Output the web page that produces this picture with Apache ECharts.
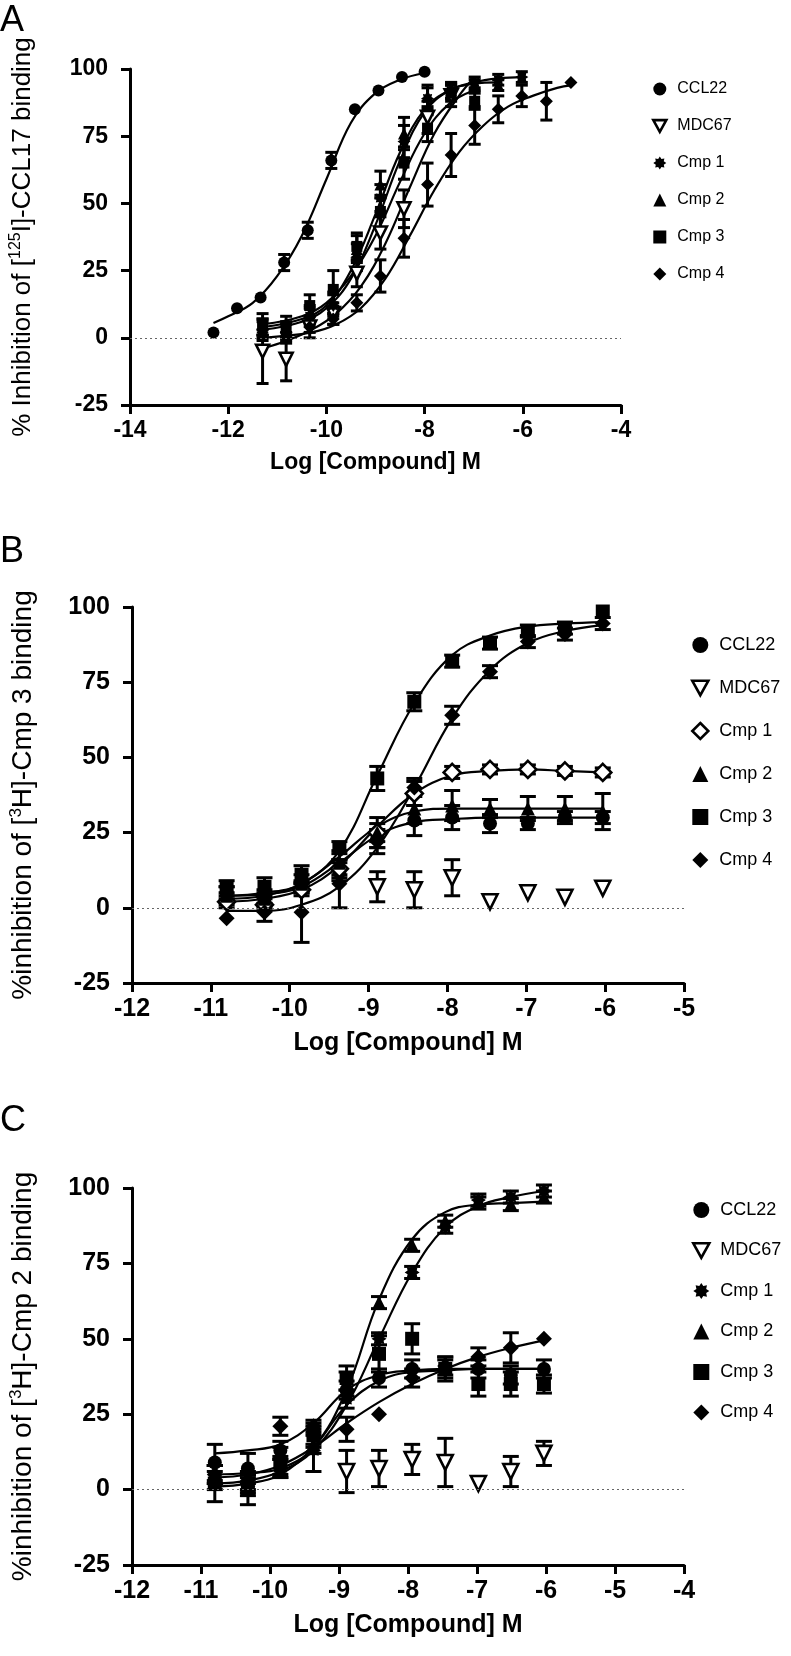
<!DOCTYPE html>
<html><head><meta charset="utf-8">
<script src="https://cdn.jsdelivr.net/npm/echarts@6/dist/echarts.min.js"></script>
<style>html,body{margin:0;padding:0;background:#fff}#c{width:791px;height:1656px}</style>
</head><body><div id="c"></div>
<script>
// ---------------- DATA ----------------
const legendNames = ['CCL22','MDC67','Cmp 1','Cmp 2','Cmp 3','Cmp 4'];
const yTicks = [-25, 0, 25, 50, 75, 100];

// Panel A  ([125I]-CCL17 binding)
const aCCL22X = [-12.3,-11.82,-11.34,-10.86,-10.38,-9.9,-9.42,-8.94,-8.46,-8.0];
const aCCL22Y = [2,11,15,28,40,66,85,92,97,99];
const aCCL22E = [0,0,0,3,3,3,0,0,0,0];
const aCmpX   = [-11.3,-10.82,-10.34,-9.86,-9.38,-8.9,-8.42,-7.94,-7.46,-6.98,-6.5,-6.02,-5.52,-5.02];
const aMDC67Y = [-5,-8,4,9,24,39,48,82,90,101];
const aMDC67E = [12,8,4,4,5,6,7,6,4,0];
const aCmp1Y  = [3,2,8,12,30,52,73,89,92,95,96,97];
const aCmp1E  = [3,3,3,4,5,5,6,4,3,2,2,2];
const aCmp2Y  = [4,3,9,13,33,57,76,90,92,94,94];
const aCmp2E  = [3,3,3,4,5,5,6,4,3,2,2];
const aCmp3Y  = [5,4,12,18,34,47,65,78,91,88];
const aCmp3E  = [4,4,4,7,5,6,6,5,3,3];
const aCmp4Y  = [1,0,4,7,13,23,37,57,68,79,85,90,88,95];
const aCmp4E  = [2,2,2,2,3,6,7,8,8,7,5,4,7,0];
// fitted curves
const aFitCCL22X = [-12.3,-12,-11.5,-11,-10.5,-10,-9.5,-9,-8.5,-8];
const aFitCCL22Y = [5.5,8,13,23,38,59,80,91,96,98.5];
const aFitMDC67X = [-11.3,-10.8,-10.3,-9.8,-9.3,-8.8,-8.3,-7.8,-7.3,-6.98];
const aFitMDC67Y = [-4,-1,3,9,19,35,56,76,90,97];
const aFitCmp1X = [-11.3,-10.5,-10,-9.5,-9,-8.5,-8,-7.5,-7,-6.5,-6];
const aFitCmp1Y = [3,6,11,22,42,66,84,92,95,96.5,97];
const aFitCmp2X = [-11.3,-10.5,-10,-9.5,-9,-8.5,-8,-7.5,-7,-6.5];
const aFitCmp2Y = [4,7,12,25,46,69,85,92,94.5,95];
const aFitCmp3X = [-11.3,-10.5,-10,-9.5,-9,-8.5,-8,-7.5,-7];
const aFitCmp3Y = [5,8,13,23,38,58,76,87,92];
const aFitCmp4X = [-11.3,-10.3,-9.8,-9.3,-8.8,-8.3,-7.8,-7.3,-6.8,-6.3,-5.8,-5.3,-5];
const aFitCmp4Y = [0,2,5,11,22,38,55,69,79,86,90,93,94];

// Panel B  ([3H]-Cmp 3 binding)
const bX      = [-10.8,-10.32,-9.85,-9.37,-8.89,-8.42,-7.94,-7.46,-6.98,-6.51,-6.03];
const bCCL22Y = [5,3,7,12,23,29,30,28,28,30,30];
const bCCL22E = [2,2,2,3,3,5,4,3,2,2,2];
const bMDC67X = [-8.89,-8.42,-7.94,-7.46,-6.98,-6.51,-6.03];
const bMDC67Y = [7,6,10,2,5,3.5,6.5];
const bMDC67E = [5,6,6,0,0,0,0];
const bCmp1Y  = [2,1,6,13,25,38,45,46,46,45.5,45];
const bCmp1E  = [2,2,2,3,3,4,2,1.5,1.5,1.5,1.5];
const bCmp2Y  = [4,3,8,15,25,33,34,33,33,33,32];
const bCmp2E  = [3,3,3,4,5,5,5,3,4,4,6];
const bCmp3Y  = [7,7,11,20,43,68.5,82,88,92,93,98.5];
const bCmp3E  = [2,3,3,2,4,3,2,2,2,2,0];
const bCmp4Y  = [-3.5,-1.5,-1.5,8,22,40,64,78.5,88.5,91,94.5];
const bCmp4E  = [0,3,10,8,4,3,3,2,2,2,2];
const bFitCCL22Y = [4,4.5,7,15,24,28.5,29.5,30,30,30,30];
const bFitCmp1Y  = [2,3,6,14,27,38,44,45.5,46,45.5,45];
const bFitCmp2Y  = [3,4,8,17,27,32,33,33,33,33,33];
const bFitCmp3Y  = [4,5,8,19,44,68,84,90.5,93.5,94.5,95];
const bFitCmp4Y  = [-1,-1,1,7,20,40,63,79,88,92,94];

// Panel C  ([3H]-Cmp 2 binding)
const cX      = [-10.8,-10.32,-9.85,-9.37,-8.89,-8.42,-7.94,-7.46,-6.98,-6.51,-6.03];
const cCCL22Y = [9,7,13,18,33,37,40,40,40,38,40];
const cCCL22E = [6,5,3,3,3,3,3,3,3,3,3];
const cMDC67X = [-8.89,-8.42,-7.94,-7.46,-6.98,-6.51,-6.03];
const cMDC67Y = [6,7,10,9,2,6,12];
const cMDC67E = [7,6,5,8,0,5,4];
const cCmp1Y  = [3,1,7,13,30,50,72,87,96,97,99];
const cCmp1E  = [3,3,3,7,3,2,2,2,2,2,2];
const cCmp2Y  = [5,2,8,15,35,62,81,89,95,94.5,97];
const cCmp2E  = [3,3,3,3,4,2,2,2,2,2,2];
const cCmp3Y  = [2,0,9,18,37,45,50,40,35,35,35];
const cCmp3E  = [6,5,5,4,4,6,5,4,4,4,3];
const cCmp4Y  = [5,3,21,21,20,25,37,41,44,47,50];
const cCmp4E  = [3,3,3,2,4,0,3,3,3,5,0];
const cFitCCL22Y = [12,13,15,22,33,38,39.5,40,40,40,40];
const cFitCmp1Y  = [2,3,6,13,28,50,72,87,94,97,99];
const cFitCmp2Y  = [5,5.5,7,14,33,63,83,92,94.5,95,95.5];
const cFitCmp3Y  = [1,2,5,14,28,36,39,39.5,40,40,40];
const cFitCmp4Y  = [4,5,8,14,22,29,35,40,44,47,49.5];

// ---------------- STYLE ----------------
const FONT = 'Liberation Sans, Arial, Helvetica, sans-serif';
function starPath(n, r1, r2) {
  let d = '';
  for (let i = 0; i < 2 * n; i++) {
    const r = i % 2 ? r2 : r1, a = Math.PI * i / n - Math.PI / 2;
    d += (i ? 'L' : 'M') + (50 + r * Math.cos(a)).toFixed(2) + ',' + (50 + r * Math.sin(a)).toFixed(2);
  }
  return 'path://' + d + 'Z';
}
const SYM = {
  circle: 'circle',
  down: 'path://M0,0L20,0L10,18Z',
  star: starPath(8, 50, 33),
  tri: 'triangle',
  rect: 'rect',
  diamond: 'diamond'
};
const filled = { color: '#000' };
const open = { color: '#fff', borderColor: '#000', borderWidth: 2.6 };

const grids = [
  { left: 116, top: 69, width: 505, height: 336 },
  { left: 117, top: 607, width: 567, height: 376 },
  { left: 117, top: 1188, width: 567, height: 377 }
];
const xCfg = [
  { min: -14, max: -4, interval: 2, fs: 23 },
  { min: -12, max: -5, interval: 1, fs: 25 },
  { min: -12, max: -4, interval: 1, fs: 25 }
];
const yTitles = [
  '{n|% Inhibition of [}{s|125}{n|I]-CCL17 binding}',
  '{n|%inhibition of [}{s|3}{n|H]-Cmp 3 binding}',
  '{n|%inhibition of [}{s|3}{n|H]-Cmp 2 binding}'
];
const titleFs = [26, 28, 28];

const xAxis = xCfg.map((c, i) => ({
  type: 'value', gridIndex: i, min: c.min, max: c.max, interval: c.interval,
  axisLine: { show: true, onZero: false, lineStyle: { color: '#000', width: 3 } },
  axisTick: { show: true, length: 9, lineStyle: { color: '#000', width: 3 } },
  splitLine: { show: false },
  axisLabel: { color: '#000', fontWeight: 'bold', fontSize: c.fs, fontFamily: FONT, margin: 14 },
  name: 'Log [Compound] M', nameLocation: 'middle', nameGap: i === 0 ? 46 : 48,
  nameTextStyle: { color: '#000', fontWeight: 'bold', fontSize: c.fs, fontFamily: FONT }
}));
const yAxis = grids.map((g, i) => ({
  type: 'value', gridIndex: i, min: yTicks[0], max: yTicks[yTicks.length - 1], interval: 25,
  axisLine: { show: true, onZero: false, lineStyle: { color: '#000', width: 3 } },
  axisTick: { show: true, length: 9, lineStyle: { color: '#000', width: 3 } },
  splitLine: { show: false },
  axisLabel: { color: '#000', fontWeight: 'bold', fontSize: xCfg[i].fs, fontFamily: FONT, margin: 22 },
  name: yTitles[i], nameLocation: 'middle', nameRotate: 90, nameGap: i === 0 ? 92 : 94,
  nameTextStyle: {
    color: '#000', fontFamily: FONT,
    rich: {
      n: { fontSize: titleFs[i], fontFamily: FONT, color: '#000', lineHeight: 30 },
      s: { fontSize: Math.round(titleFs[i] * 0.6), fontFamily: FONT, color: '#000', lineHeight: 14, verticalAlign: 'top' }
    }
  }
}));

// ---------------- SERIES BUILDERS ----------------
const series = [];
function pts(xs, ys) { return ys.map((y, i) => [xs[i], y]); }
function addFit(g, name, xs, ys) {
  series.push({
    type: 'line', name: name + ' fit', xAxisIndex: g, yAxisIndex: g, data: pts(xs, ys),
    smooth: 0.4, showSymbol: false, symbol: 'none', silent: true, z: 2,
    lineStyle: { color: '#000', width: 2.2 }
  });
}
function addErr(g, name, xs, ys, es, cap) {
  const d = [];
  ys.forEach((y, i) => { if (es[i] > 0) d.push([xs[i], y - es[i], y + es[i]]); });
  series.push({
    type: 'custom', name: name + ' err', xAxisIndex: g, yAxisIndex: g, data: d, silent: true, z: 3,
    renderItem: function (params, api) {
      const x = api.value(0);
      const p1 = api.coord([x, api.value(2)]), p2 = api.coord([x, api.value(1)]);
      const st = { stroke: '#000', lineWidth: 3, fill: null };
      return { type: 'group', children: [
        { type: 'line', shape: { x1: p1[0], y1: p1[1], x2: p2[0], y2: p2[1] }, style: st },
        { type: 'line', shape: { x1: p1[0] - cap, y1: p1[1], x2: p1[0] + cap, y2: p1[1] }, style: st },
        { type: 'line', shape: { x1: p2[0] - cap, y1: p2[1], x2: p2[0] + cap, y2: p2[1] }, style: st }
      ] };
    }
  });
}
function addPts(g, name, xs, ys, sym, size, style, extra) {
  const s = {
    type: 'scatter', name: name, xAxisIndex: g, yAxisIndex: g, data: pts(xs, ys),
    symbol: sym, symbolSize: size, itemStyle: Object.assign({ opacity: 1 }, style), z: 4, silent: true
  };
  if (extra) Object.assign(s, extra);
  series.push(s);
}
const zeroLine = {
  silent: true, symbol: 'none', label: { show: false },
  lineStyle: { type: [2, 3], color: '#666', width: 1 }, data: [{ yAxis: 0 }]
};

// Panel A
addFit(0, 'A CCL22', aFitCCL22X, aFitCCL22Y);
addFit(0, 'A MDC67', aFitMDC67X, aFitMDC67Y);
addFit(0, 'A Cmp1', aFitCmp1X, aFitCmp1Y);
addFit(0, 'A Cmp2', aFitCmp2X, aFitCmp2Y);
addFit(0, 'A Cmp3', aFitCmp3X, aFitCmp3Y);
addFit(0, 'A Cmp4', aFitCmp4X, aFitCmp4Y);
addErr(0, 'A CCL22', aCCL22X, aCCL22Y, aCCL22E, 6);
addErr(0, 'A MDC67', aCmpX, aMDC67Y, aMDC67E, 6);
addErr(0, 'A Cmp1', aCmpX, aCmp1Y, aCmp1E, 6);
addErr(0, 'A Cmp2', aCmpX, aCmp2Y, aCmp2E, 6);
addErr(0, 'A Cmp3', aCmpX, aCmp3Y, aCmp3E, 6);
addErr(0, 'A Cmp4', aCmpX, aCmp4Y, aCmp4E, 6);
addPts(0, 'CCL22', aCCL22X, aCCL22Y, SYM.circle, 12, filled, { markLine: zeroLine });
addPts(0, 'MDC67', aCmpX, aMDC67Y, SYM.down, 13, open);
addPts(0, 'Cmp 1', aCmpX, aCmp1Y, SYM.star, 13, filled);
addPts(0, 'Cmp 2', aCmpX, aCmp2Y, SYM.tri, 12, filled);
addPts(0, 'Cmp 3', aCmpX, aCmp3Y, SYM.rect, 11, filled);
addPts(0, 'Cmp 4', aCmpX, aCmp4Y, SYM.diamond, 13, filled);

// Panel B
addFit(1, 'B CCL22', bX, bFitCCL22Y);
addFit(1, 'B Cmp1', bX, bFitCmp1Y);
addFit(1, 'B Cmp2', bX, bFitCmp2Y);
addFit(1, 'B Cmp3', bX, bFitCmp3Y);
addFit(1, 'B Cmp4', bX, bFitCmp4Y);
addErr(1, 'B CCL22', bX, bCCL22Y, bCCL22E, 8);
addErr(1, 'B MDC67', bMDC67X, bMDC67Y, bMDC67E, 8);
addErr(1, 'B Cmp1', bX, bCmp1Y, bCmp1E, 8);
addErr(1, 'B Cmp2', bX, bCmp2Y, bCmp2E, 8);
addErr(1, 'B Cmp3', bX, bCmp3Y, bCmp3E, 8);
addErr(1, 'B Cmp4', bX, bCmp4Y, bCmp4E, 8);
addPts(1, 'CCL22', bX, bCCL22Y, SYM.circle, 14, filled, { markLine: zeroLine });
addPts(1, 'MDC67', bMDC67X, bMDC67Y, SYM.down, 15, open);
addPts(1, 'Cmp 1', bX, bCmp1Y, SYM.diamond, 17, open);
addPts(1, 'Cmp 2', bX, bCmp2Y, SYM.tri, 14, filled);
addPts(1, 'Cmp 3', bX, bCmp3Y, SYM.rect, 14, filled);
addPts(1, 'Cmp 4', bX, bCmp4Y, SYM.diamond, 16, filled);

// Panel C
addFit(2, 'C CCL22', cX, cFitCCL22Y);
addFit(2, 'C Cmp1', cX, cFitCmp1Y);
addFit(2, 'C Cmp2', cX, cFitCmp2Y);
addFit(2, 'C Cmp3', cX, cFitCmp3Y);
addFit(2, 'C Cmp4', cX, cFitCmp4Y);
addErr(2, 'C CCL22', cX, cCCL22Y, cCCL22E, 8);
addErr(2, 'C MDC67', cMDC67X, cMDC67Y, cMDC67E, 8);
addErr(2, 'C Cmp1', cX, cCmp1Y, cCmp1E, 8);
addErr(2, 'C Cmp2', cX, cCmp2Y, cCmp2E, 8);
addErr(2, 'C Cmp3', cX, cCmp3Y, cCmp3E, 8);
addErr(2, 'C Cmp4', cX, cCmp4Y, cCmp4E, 8);
addPts(2, 'CCL22', cX, cCCL22Y, SYM.circle, 14, filled, { markLine: zeroLine });
addPts(2, 'MDC67', cMDC67X, cMDC67Y, SYM.down, 15, open);
addPts(2, 'Cmp 1', cX, cCmp1Y, SYM.star, 15, filled);
addPts(2, 'Cmp 2', cX, cCmp2Y, SYM.tri, 14, filled);
addPts(2, 'Cmp 3', cX, cCmp3Y, SYM.rect, 14, filled);
addPts(2, 'Cmp 4', cX, cCmp4Y, SYM.diamond, 16, filled);

// ---------------- LEGENDS ----------------
function legendItems(icons) {
  return legendNames.map((n, i) => ({
    name: n, icon: icons[i].sym,
    itemStyle: icons[i].open ? { color: '#fff', borderColor: '#000', borderWidth: 2.6 } : { color: '#000', borderWidth: 0 }
  }));
}
const iconsAC = [
  { sym: SYM.circle }, { sym: SYM.down, open: true }, { sym: SYM.star }, { sym: SYM.tri }, { sym: SYM.rect }, { sym: SYM.diamond }
];
const iconsB = [
  { sym: SYM.circle }, { sym: SYM.down, open: true }, { sym: SYM.diamond, open: true }, { sym: SYM.tri }, { sym: SYM.rect }, { sym: SYM.diamond }
];
function legend(left, top, gap, fs, sz, icons) {
  return {
    orient: 'vertical', left: left, top: top, itemGap: gap, itemWidth: sz, itemHeight: sz,
    selectedMode: false, data: legendItems(icons),
    textStyle: { color: '#000', fontSize: fs, fontFamily: FONT, padding: [0, 0, 0, 6], lineHeight: 20 }
  };
}

const chart = echarts.init(document.getElementById('c'), null, { renderer: 'canvas' });
chart.setOption({
  backgroundColor: '#fff',
  animation: false,
  grid: grids,
  xAxis: xAxis,
  yAxis: yAxis,
  legend: [
    legend(647, 74, 17, 16, 13, iconsAC),
    legend(686, 630, 23, 18, 16, iconsB),
    legend(687, 1195, 20.5, 18, 16, iconsAC)
  ],
  graphic: [
    { type: 'text', left: 0, top: 3, style: { text: 'A', fontSize: 36, fontFamily: FONT, fill: '#000' } },
    { type: 'text', left: 0, top: 534, style: { text: 'B', fontSize: 36, fontFamily: FONT, fill: '#000' } },
    { type: 'text', left: 0, top: 1103, style: { text: 'C', fontSize: 36, fontFamily: FONT, fill: '#000' } }
  ],
  series: series
});
</script>
</body></html>
